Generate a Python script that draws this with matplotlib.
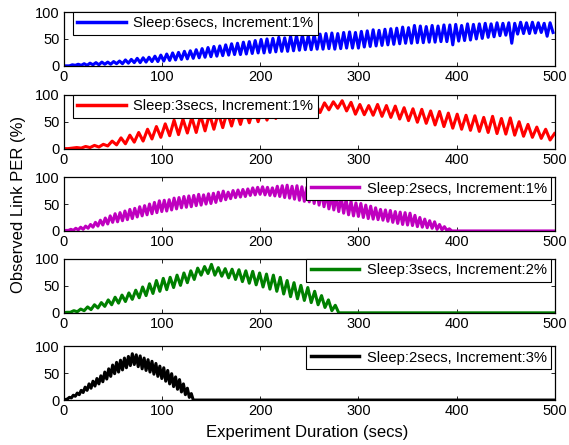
import numpy as np
import matplotlib.pyplot as plt

plt.rcParams['font.family'] = ['Liberation Sans', 'DejaVu Sans']
plt.rcParams['font.size'] = 10.5

duration = 500

# observed PER (%), alternating trough / peak
# each row is five cycles
blue_step = 3.0
blue_per = [
    0, 0, 0, 2, 1, 3, 1, 4, 1, 5,
    2, 6, 2, 7, 3, 7, 3, 8, 4, 9,
    4, 11, 5, 12, 6, 14, 6, 15, 7, 16,
    8, 18, 8, 20, 9, 22, 10, 24, 11, 25,
    12, 27, 13, 28, 14, 30, 15, 32, 16, 34,
    17, 36, 18, 37, 19, 39, 20, 41, 21, 42,
    21, 44, 22, 45, 23, 47, 24, 49, 24, 50,
    25, 51, 26, 53, 27, 52, 27, 55, 28, 56,
    29, 57, 30, 56, 30, 58, 31, 59, 31, 60,
    32, 61, 31, 60, 32, 62, 33, 63, 33, 62,
    33, 64, 35, 65, 36, 67, 37, 66, 38, 68,
    39, 69, 40, 70, 41, 72, 42, 71, 42, 75,
    43, 74, 43, 73, 44, 75, 44, 74, 45, 76,
    45, 76, 39, 77, 46, 75, 47, 78, 48, 77,
    50, 78, 51, 79, 53, 78, 54, 80, 56, 79,
    57, 80, 42, 79, 59, 81, 60, 80, 60, 81,
    61, 80, 62, 79, 55, 80, 62,
]

red_step = 4.5
red_per = [
    0, 0, 1, 2, 1, 4, 2, 6, 3, 8,
    5, 14, 7, 20, 9, 25, 12, 30, 14, 36,
    18, 41, 21, 46, 24, 53, 26, 55, 29, 58,
    30, 62, 33, 64, 36, 66, 39, 69, 42, 71,
    45, 73, 48, 75, 50, 77, 53, 78, 56, 80,
    59, 81, 60, 82, 61, 81, 64, 83, 67, 85,
    72, 87, 75, 89, 70, 86, 64, 82, 63, 80,
    62, 82, 60, 80, 58, 79, 55, 76, 52, 74,
    49, 73, 47, 70, 44, 69, 41, 66, 38, 64,
    36, 62, 34, 61, 32, 58, 30, 60, 28, 56,
    27, 57, 25, 50, 23, 45, 21, 40, 19, 36,
    16, 28,
]

magenta_step = 2.5
magenta_per = [
    0, 1, 1, 3, 1, 5, 2, 7, 3, 9,
    5, 12, 7, 16, 9, 20, 11, 24, 13, 28,
    16, 32, 17, 34, 19, 37, 21, 40, 23, 42,
    26, 45, 28, 47, 30, 50, 32, 53, 34, 56,
    36, 57, 37, 58, 39, 61, 41, 62, 43, 64,
    44, 65, 45, 66, 47, 68, 48, 67, 50, 69,
    51, 70, 53, 72, 56, 74, 58, 72, 60, 75,
    62, 76, 63, 77, 64, 78, 66, 80, 67, 81,
    68, 82, 67, 81, 66, 80, 65, 83, 64, 84,
    62, 85, 61, 83, 59, 84, 57, 82, 55, 81,
    54, 82, 51, 78, 48, 74, 45, 70, 41, 66,
    39, 64, 36, 62, 33, 58, 30, 55, 28, 52,
    27, 51, 25, 48, 23, 46, 22, 43, 21, 40,
    20, 39, 18, 38, 16, 36, 14, 35, 12, 34,
    11, 33, 10, 29, 8, 25, 7, 22, 6, 19,
    5, 17, 3, 12, 2, 8, 1, 4, 0, 0,
]

green_step = 3.5
green_per = [
    0, 1, 1, 4, 2, 7, 4, 11, 6, 15,
    9, 19, 12, 24, 15, 29, 18, 33, 21, 37,
    25, 42, 28, 48, 32, 54, 36, 60, 40, 64,
    43, 66, 47, 70, 51, 74, 56, 78, 62, 83,
    70, 86, 73, 90, 70, 84, 68, 82, 65, 81,
    62, 80, 58, 78, 55, 77, 52, 74, 48, 72,
    44, 70, 40, 66, 35, 60, 30, 56, 26, 51,
    23, 47, 19, 40, 15, 32, 10, 24, 4, 14,
    0,
]

black_step = 2.0
black_per = [
    0, 1, 2, 5, 4, 9, 7, 13, 10, 18,
    14, 24, 18, 30, 22, 35, 26, 40, 30, 45,
    34, 52, 39, 58, 44, 65, 49, 70, 52, 74,
    56, 78, 60, 81, 64, 86, 66, 84, 62, 82,
    58, 78, 55, 75, 52, 72, 48, 68, 44, 63,
    40, 60, 35, 55, 30, 49, 25, 43, 20, 38,
    15, 30, 10, 22, 5, 12, 0,
]

series = [
    (blue_per, blue_step, 'Sleep:6secs, Increment:1%', (0, 0, 1), 'upper left'),
    (red_per, red_step, 'Sleep:3secs, Increment:1%', (1, 0, 0), 'upper left'),
    (magenta_per, magenta_step, 'Sleep:2secs, Increment:1%', (0.75, 0, 0.75), 'upper right'),
    (green_per, green_step, 'Sleep:3secs, Increment:2%', (0, 0.5, 0), 'upper right'),
    (black_per, black_step, 'Sleep:2secs, Increment:3%', (0, 0, 0), 'upper right'),
]

fig = plt.figure(figsize=(5.69, 4.45), dpi=100)
bottoms = [0.852, 0.666, 0.481, 0.297, 0.101]

for (vals, step, label, color, loc), b in zip(series, bottoms):
    ax = fig.add_axes([0.1116, b, 0.8638, 0.121])
    y = np.array(vals, dtype=float)
    t = np.arange(len(y)) * step
    if y[-1] == 0:
        # link is dead for the rest of the run
        t = np.append(t, duration)
        y = np.append(y, 0)
    ax.plot(t, y, color=color, lw=2.2, label=label)
    ax.set_xlim(0, duration)
    ax.set_ylim(0, 100)
    ax.set_xticks([0, 100, 200, 300, 400, 500])
    ax.set_yticks([0, 50, 100])
    ax.tick_params(direction='in', top=True, right=True, length=3, width=0.6, pad=3)
    for s in ax.spines.values():
        s.set_linewidth(0.9)
    if loc == 'upper left':
        anchor = (0.019, 1.0)
    else:
        anchor = (0.992, 1.0)
    leg = ax.legend(loc=loc, bbox_to_anchor=anchor, borderaxespad=0, fancybox=False,
                    framealpha=1, edgecolor='black', handlelength=3.3,
                    handletextpad=0.5, borderpad=0.3, fontsize=10.6)
    leg.get_frame().set_linewidth(0.8)
    for h in leg.get_lines():
        h.set_linewidth(2.5)

fig.text(0.54, 0.028, 'Experiment Duration (secs)', ha='center', va='center', fontsize=12)
fig.text(0.032, 0.54, 'Observed Link PER (%)', ha='center', va='center',
         rotation=90, fontsize=12)

fig.savefig('out.png', dpi=100)
